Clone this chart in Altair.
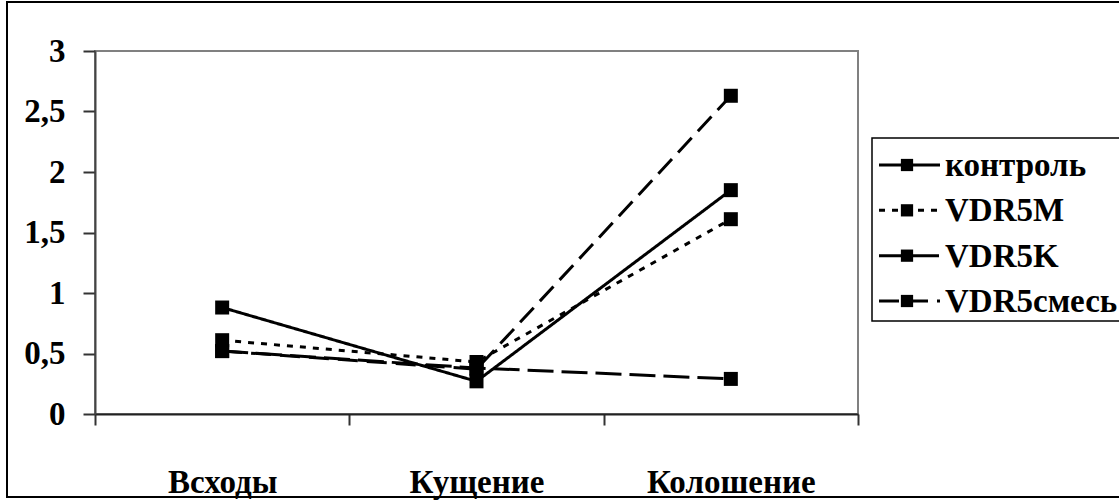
import altair as alt
import pandas as pd

# Growth stages and measured values per treatment
stages = ["Всходы", "Кущение", "Колошение"]
series_names = ["контроль", "VDR5M", "VDR5K", "VDR5смесь"]
control = [0.88, 0.27, 1.85]
vdr5m = [0.61, 0.43, 1.61]
vdr5k = [0.52, 0.38, 0.29]
vdr5mix = [0.52, 0.37, 2.63]
y_ticks = [0, 0.5, 1, 1.5, 2, 2.5, 3]

values_by_series = [control, vdr5m, vdr5k, vdr5mix]
rows = []
for name, vals in zip(series_names, values_by_series):
    for stage, v in zip(stages, vals):
        rows.append({"stage": stage, "series": name, "value": v, "order": series_names.index(name)})
df = pd.DataFrame(rows)
legend_df = pd.DataFrame({"series": series_names, "idx": list(range(len(series_names)))})

FONT = "'Times New Roman', 'Liberation Serif', Tinos, serif"
dash_scale = alt.Scale(domain=series_names, range=[[1, 0], [6, 7], [26, 8], [20, 9]])

x_enc = alt.X(
    "stage:N",
    sort=stages,
    bandPosition=0.5,
    scale=alt.Scale(type="band", paddingInner=0, paddingOuter=0),
    axis=alt.Axis(
        title=None, tickBand="extent", labelAngle=0, labelFont=FONT, labelFontSize=33,
        labelFontWeight="bold", labelColor="black", labelPadding=41, tickSize=11,
        tickColor="#333", tickWidth=2, domainColor="#222", domainWidth=2,
    ),
)
y_enc = alt.Y(
    "value:Q",
    scale=alt.Scale(domain=[0, 3], nice=False),
    axis=alt.Axis(
        title=None, values=y_ticks, grid=False, labelFont=FONT, labelFontSize=33,
        labelFontWeight="bold", labelColor="black", labelPadding=18, tickSize=12,
        tickColor="#333", tickWidth=2, domainColor="#444", domainWidth=2,
        labelExpr="replace(toString(datum.value), '.', ',')",
    ),
)

lines = alt.Chart(df).mark_line(color="black", strokeWidth=3).encode(
    x=x_enc,
    y=y_enc,
    detail="series:N",
    strokeDash=alt.StrokeDash("series:N", scale=dash_scale, legend=None),
    order="order:Q",
)
points = alt.Chart(df).mark_square(size=196, color="black", filled=True, opacity=1).encode(
    x=x_enc,
    y=y_enc,
)
plot = alt.layer(lines, points)

# Hand-built legend at the right of the plot
leg_y = alt.Y("idx:Q", axis=None, scale=alt.Scale(domain=[0, 3], range=[114, 250], nice=False, zero=False))
leg_box = alt.Chart(alt.Data(values=[{"k": 1}])).mark_rect(
    fill="white", stroke="black", strokeWidth=1.5
).encode(x=alt.value(777), x2=alt.value(1035), y=alt.value(87), y2=alt.value(270))
leg_lines = alt.Chart(legend_df).mark_rule(color="black", strokeWidth=3).encode(
    x=alt.value(784), x2=alt.value(845), y=leg_y,
    strokeDash=alt.StrokeDash("series:N", scale=dash_scale, legend=None),
)
leg_marks = alt.Chart(legend_df).mark_square(size=150, color="black", filled=True, opacity=1).encode(
    x=alt.value(812), y=leg_y,
)
leg_text = alt.Chart(legend_df).mark_text(
    align="left", baseline="middle", font=FONT, fontSize=33, fontWeight="bold", color="black", dy=1
).encode(x=alt.value(850), y=leg_y, text="series:N")

# Outer frame around the whole chart
frame = alt.Chart(alt.Data(values=[{"k": 1}])).mark_rect(
    fill=None, stroke="black", strokeWidth=2
).encode(x=alt.value(-88), x2=alt.value(1040), y=alt.value(-49), y2=alt.value(446))

chart = alt.layer(frame, plot, leg_box, leg_lines, leg_marks, leg_text).resolve_scale(
    y="independent"
).properties(
    width=763,
    height=363,
    autosize="none",
    padding={"left": 95, "top": 51, "right": 261, "bottom": 87},
    background="white",
).configure_view(stroke="#808080", strokeWidth=2)

chart.save("out.html", embed_options={"renderer": "svg", "actions": False})
